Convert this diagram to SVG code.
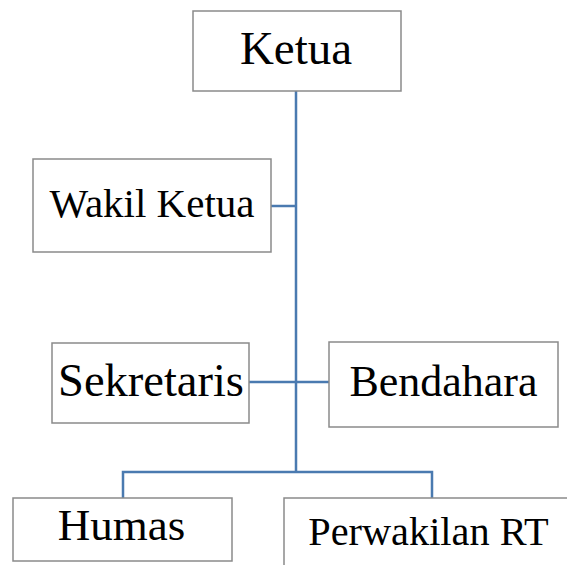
<svg xmlns="http://www.w3.org/2000/svg" width="567" height="565" viewBox="0 0 567 565">
<style>
.box{fill:#fff;stroke:#8a8a8a;stroke-width:1.5}
.lbl{font-family:"Liberation Serif","Times New Roman",serif;fill:#000;text-anchor:middle}
.con{fill:none;stroke:#4a7ab0;stroke-width:2.5}
</style>
<rect width="567" height="565" fill="#fff"/>
<g id="connectors">
<path class="con" d="M296 91 V472"/>
<path class="con" d="M271 206 H296"/>
<path class="con" d="M249 382 H329"/>
<path class="con" d="M123 498 V472 H432 V498"/>
</g>
<g id="ketua"><rect class="box" x="193" y="11" width="208" height="80"/><text class="lbl" x="296" y="64" font-size="47">Ketua</text></g>
<g id="wakil"><rect class="box" x="33" y="159" width="238" height="93"/><text class="lbl" x="152" y="217" font-size="41">Wakil Ketua</text></g>
<g id="sekretaris"><rect class="box" x="52" y="343" width="197" height="80"/><text class="lbl" x="151" y="396" font-size="46.5">Sekretaris</text></g>
<g id="bendahara"><rect class="box" x="329" y="342" width="229" height="85"/><text class="lbl" x="443.5" y="396" font-size="44">Bendahara</text></g>
<g id="humas"><rect class="box" x="13" y="498" width="219" height="63"/><text class="lbl" x="121.5" y="540" font-size="45">Humas</text></g>
<g id="perwakilan"><rect class="box" x="284" y="498" width="300" height="80"/><text class="lbl" x="428.5" y="545" font-size="40.3">Perwakilan RT</text></g>
</svg>
